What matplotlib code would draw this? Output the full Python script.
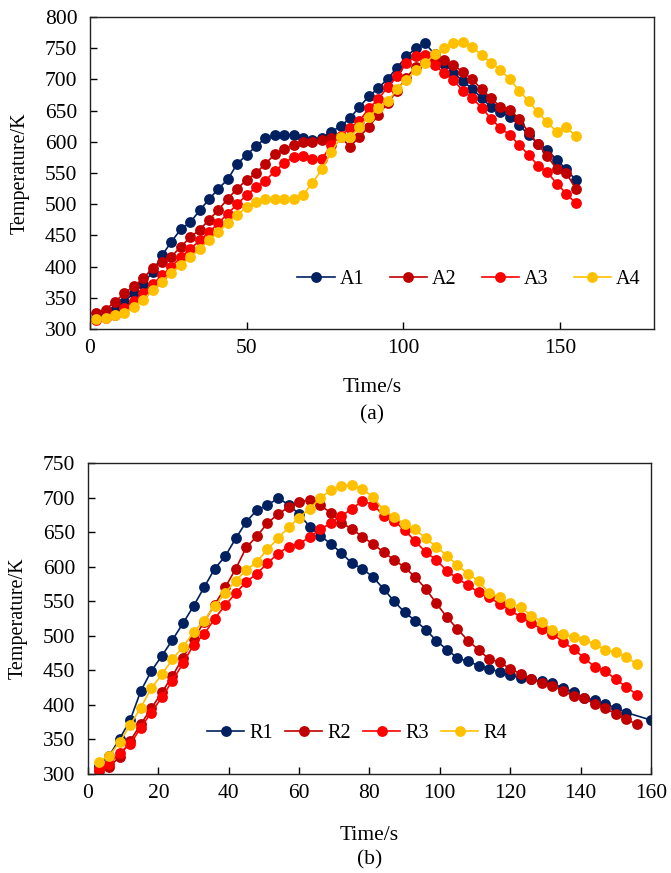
import matplotlib
matplotlib.use('Agg')
import matplotlib.pyplot as plt
import numpy as np

plt.rcParams['font.family'] = ['Liberation Serif', 'DejaVu Serif']
plt.rcParams['font.size'] = 15

# (a) series, sampled every 3 s from 2 s to 155 s
a_time = np.arange(2, 156, 3)
a1 = [318, 322, 330, 344, 358, 372, 392, 418, 440, 460,
      471, 490, 508, 525, 540, 565, 579, 593, 606, 611,
      611, 611, 606, 603, 606, 616, 625, 638, 656, 673,
      686, 701, 719, 737, 750, 758, 740, 725, 711, 697,
      685, 670, 656, 648, 640, 627, 611, 597, 587, 571,
      556, 539]
a2 = [325, 331, 344, 357, 369, 381, 398, 408, 416, 432,
      447, 459, 475, 491, 509, 525, 539, 550, 565, 580,
      589, 595, 599, 600, 603, 606, 608, 592, 608, 624,
      643, 662, 682, 703, 720, 728, 733, 731, 723, 712,
      700, 684, 670, 656, 651, 637, 615, 596, 577, 556,
      550, 525]
a3 = [315, 318, 322, 333, 345, 358, 372, 386, 400, 415,
      428, 442, 455, 470, 485, 500, 515, 527, 538, 553,
      566, 576, 578, 573, 572, 595, 610, 622, 633, 654,
      668, 688, 705, 726, 737, 739, 723, 710, 699, 682,
      670, 655, 637, 622, 611, 595, 579, 562, 551, 533,
      517, 502]
a4 = [316, 317, 322, 325, 336, 347, 362, 376, 390, 403,
      415, 428, 443, 456, 470, 483, 495, 504, 508, 508,
      508, 508, 515, 534, 556, 583, 607, 607, 624, 640,
      654, 665, 684, 699, 715, 726, 740, 750, 759, 760,
      752, 739, 727, 715, 700, 682, 665, 647, 631, 616,
      624, 609]

# (b) series
r_time = np.arange(3, 157, 3)
r1_time = list(range(3, 154, 3)) + [160]
r1 = [312, 326, 351, 378, 420, 449, 471, 494, 518, 543,
      570, 597, 615, 641, 665, 682, 689, 699, 690, 676,
      658, 645, 633, 620, 605, 597, 585, 568, 550, 534,
      522, 509, 493, 480, 468, 463, 457, 452, 448, 443,
      439, 437, 434, 432, 424, 419, 410, 407, 401, 396,
      389, 378]
r2 = [304, 310, 325, 348, 372, 395, 418, 442, 468, 495,
      520, 545, 570, 597, 628, 644, 663, 676, 686, 694,
      696, 689, 678, 663, 655, 643, 633, 621, 610, 599,
      585, 568, 547, 527, 510, 493, 480, 466, 462, 452,
      445, 438, 431, 428, 420, 413, 410, 401, 395, 387,
      379, 372]
r3 = [307, 314, 331, 343, 367, 389, 411, 435, 460, 487,
      502, 525, 544, 562, 578, 590, 605, 619, 629, 633,
      643, 654, 663, 673, 684, 695, 690, 674, 666, 653,
      637, 621, 610, 594, 583, 573, 563, 556, 546, 537,
      527, 518, 510, 503, 491, 481, 468, 455, 449, 437,
      426, 415]
r4 = [318, 326, 346, 371, 396, 424, 444, 466, 484, 505,
      522, 543, 562, 580, 595, 607, 625, 641, 657, 671,
      684, 699, 711, 717, 718, 712, 701, 682, 672, 662,
      654, 641, 629, 616, 602, 590, 579, 562, 556, 547,
      541, 529, 520, 509, 503, 498, 494, 488, 480, 476,
      469, 459]

colors = ['#002060', '#C00000', '#FF0000', '#FFC000']

fig = plt.figure(figsize=(6.71, 8.73), dpi=100)
ax_a = fig.add_axes([0.1341, 0.6231, 0.8405, 0.3574])
ax_b = fig.add_axes([0.1311, 0.1134, 0.839, 0.3562])

style = dict(marker='o', markersize=7.8, markeredgewidth=0, linewidth=1.2)

for y, c, lab in zip([a1, a2, a3, a4], colors, ['A1', 'A2', 'A3', 'A4']):
    ax_a.plot(a_time, y, color=c, label=lab, **style)

for t, y, c, lab in zip([r1_time, r_time, r_time, r_time], [r1, r2, r3, r4], colors,
                        ['R1', 'R2', 'R3', 'R4']):
    ax_b.plot(t, y, color=c, label=lab, **style)

ax_a.set_xlim(0, 180)
ax_a.set_ylim(300, 800)
ax_a.set_xticks([0, 50, 100, 150])
ax_a.set_yticks(np.arange(300, 801, 50))

ax_b.set_xlim(0, 160)
ax_b.set_ylim(300, 750)
ax_b.set_xticks(np.arange(0, 161, 20))
ax_b.set_yticks(np.arange(300, 751, 50))

for ax in (ax_a, ax_b):
    ax.tick_params(direction='in', length=5, width=1, labelsize=15.5)
    ax.tick_params(axis='x', pad=7.5)
    ax.tick_params(axis='y', pad=9)
    for s in ax.spines.values():
        s.set_linewidth(1)
        s.set_color('#222222')
    ax.set_ylabel('Temperature/K', fontsize=14.5, labelpad=11)

ax_a.set_xlabel('Time/s', fontsize=15.5, labelpad=14)
ax_b.set_xlabel('Time/s', fontsize=15.5, labelpad=16)

ax_a.legend(loc='center', bbox_to_anchor=(0.672, 0.16), ncol=4, frameon=False,
            handlelength=1.85, handletextpad=0.25, columnspacing=1.25, fontsize=14.5)
ax_b.legend(loc='center', bbox_to_anchor=(0.478, 0.13), ncol=4, frameon=False,
            handlelength=1.85, handletextpad=0.25, columnspacing=0.6, fontsize=14.5)

ax_a.text(0.5, -86 / 311, '(a)', transform=ax_a.transAxes, ha='center', va='center',
          fontsize=15.5)
ax_b.text(0.5, -86 / 310, '(b)', transform=ax_b.transAxes, ha='center', va='center',
          fontsize=15.5)

fig.savefig('out.png', dpi=100)
